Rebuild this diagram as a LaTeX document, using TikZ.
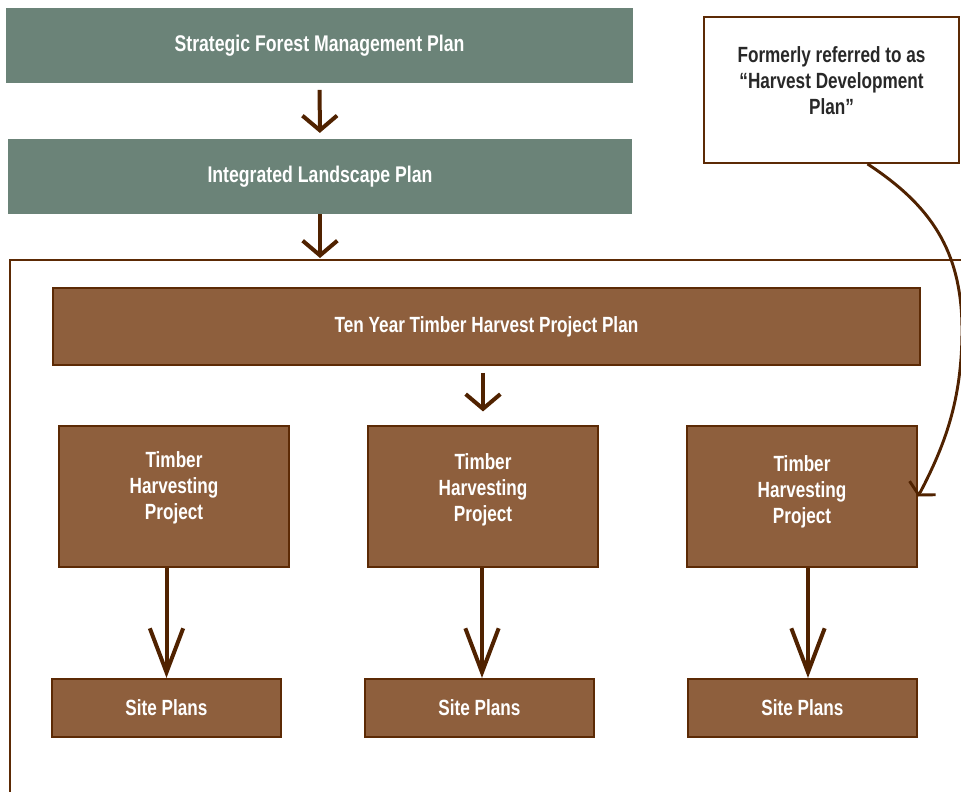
\documentclass[tikz,border=0pt]{standalone}
\usepackage{fontspec}
\setmainfont[FakeStretch=0.78]{Liberation Sans}
\usetikzlibrary{arrows.meta}
\definecolor{plangreen}{RGB}{107,131,120}
\definecolor{planbrown}{RGB}{142,95,61}
\definecolor{darkbrown}{RGB}{92,42,5}
\definecolor{arrowbrown}{RGB}{80,34,0}
\definecolor{notetext}{RGB}{40,40,40}
\tikzset{
  greenbox/.style={fill=plangreen,text=white,inner sep=0pt,
    font=\bfseries\fontsize{17}{20}\selectfont},
  brownbox/.style={fill=planbrown,draw=darkbrown,line width=1.6pt,text=white,
    inner sep=0pt,align=center,font=\bfseries\fontsize{16.5}{19.5}\selectfont},
  notebox/.style={fill=white,draw=darkbrown,line width=1.4pt,text=notetext,
    inner sep=0pt,align=center,font=\bfseries\fontsize{16.5}{19.5}\selectfont},
  bigarrow/.style={draw=arrowbrown,line width=3pt,
    -{Straight Barb[length=11pt,width=26pt]}},
  longarrow/.style={draw=arrowbrown,line width=3pt,
    -{Straight Barb[length=33pt,width=25pt]}},
}
\begin{document}
\begin{tikzpicture}[x=0.75pt,y=-0.75pt]
\useasboundingbox (0,0) rectangle (961,792);
\clip (0,0) rectangle (961,792);
% top of the chain
\node[greenbox,minimum width=470pt,minimum height=56pt] (sfmp) at (319.5,45.5) {Strategic Forest Management Plan};
\node[greenbox,minimum width=468pt,minimum height=56pt] (ilp) at (320,176.5) {Integrated Landscape Plan};
\node[notebox,minimum width=191pt,minimum height=109.5pt,text depth=14pt] (note) at (831.5,90) {Formerly referred to as\\``Harvest Development\\Plan''};
% frame round the project plans
\coordinate (frametop) at (320,260);
\draw[darkbrown,line width=1.4pt] (10,800) -- (10,260) -- (975,260);
\node[brownbox,minimum width=650pt,minimum height=58pt] (ten) at (486.5,326.5) {Ten Year Timber Harvest Project Plan};
\node[brownbox,minimum width=172.5pt,minimum height=106pt,text depth=17pt] (thp1) at (174,496.5) {Timber\\Harvesting\\Project};
\node[brownbox,minimum width=172.5pt,minimum height=106pt,text depth=13pt] (thp2) at (483,496.5) {Timber\\Harvesting\\Project};
\node[brownbox,minimum width=172.5pt,minimum height=106pt,text depth=10pt] (thp3) at (802,496.5) {Timber\\Harvesting\\Project};
\node[brownbox,minimum width=172pt,minimum height=43.5pt] (site1) at (166.5,708) {Site Plans};
\node[brownbox,minimum width=172pt,minimum height=43.5pt] (site2) at (479.5,708) {Site Plans};
\node[brownbox,minimum width=172pt,minimum height=43.5pt] (site3) at (802.5,708) {Site Plans};
% arrows
\draw[bigarrow,shorten <=5pt,shorten >=4.5pt] (sfmp) -- (ilp);
\draw[bigarrow,shorten >=1.5pt] (ilp) -- (frametop);
\draw[bigarrow,shorten <=5pt,shorten >=10pt] (ten.south -| thp2) -- (thp2.north);
\draw[longarrow] (site1.north |- thp1.south) -- (site1.north);
\draw[longarrow] (thp2.south -| 482,0) -- (site2.north -| 482,0);
\draw[longarrow] (thp3.south -| 808,0) -- (site3.north -| 808,0);
\draw[arrowbrown,line width=2.2pt,-{Straight Barb[length=6pt,width=22pt]}]
  ([xshift=27pt]note.south) .. controls (930,205) and (962,250) .. (962,330)
  .. controls (962,400) and (945,445) .. (thp3.east);
\end{tikzpicture}
\end{document}
